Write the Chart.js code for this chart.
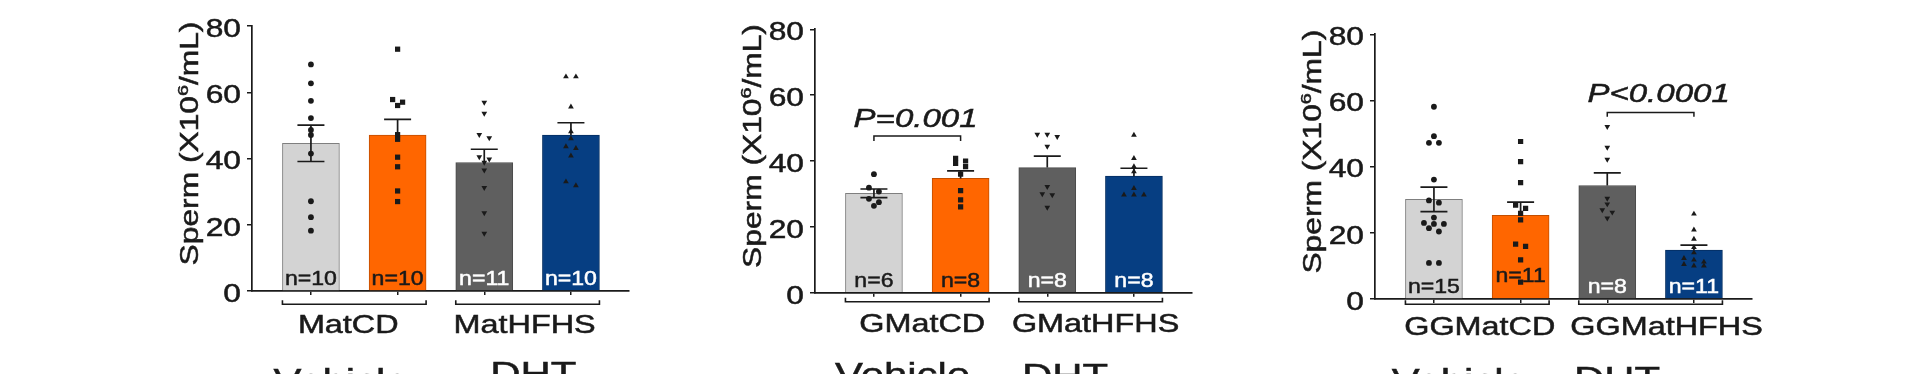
<!DOCTYPE html>
<html>
<head>
<meta charset="utf-8">
<script src="https://cdn.jsdelivr.net/npm/chart.js@4/dist/chart.umd.min.js"></script>
<style>
    html, body { margin: 0; padding: 0; background: #fff; }
    #wrap { position: relative; width: 1920px; height: 374px; overflow: hidden; }
    canvas { position: absolute; top: 0; }
</style>
</head>
<body>
<div id="wrap">
    <canvas id="c1" width="600" height="374" style="left:52px"></canvas>
    <canvas id="c2" width="600" height="374" style="left:615px"></canvas>
    <canvas id="c3" width="600" height="374" style="left:1175px"></canvas>
</div>
<script>
// 数据 (Sperm, x10^6/mL) — 从原图读出
const treatLabels = ['Vehicle', 'DHT'];
const groups1 = ['MatCD', 'MatHFHS'];
const groups2 = ['GMatCD', 'GMatHFHS'];
const groups3 = ['GGMatCD', 'GGMatHFHS'];

// F1: MatCD / MatHFHS
const f1Means = [44.6, 47.1, 38.8, 47.1];
const f1Sem = [5.5, 4.7, 4.0, 3.7];
const f1VehCD = [68.4, 62.7, 57.4, 52.2, 48.6, 47.1, 41.5, 27.1, 22.3, 18.2];
const f1DhtCD = [73.0, 57.8, 57.0, 56.0, 47.2, 45.8, 40.4, 37.5, 30.2, 27.0];
const f1VehHF = [56.9, 53.6, 47.2, 46.2, 40.5, 39.8, 38.8, 36.5, 31.2, 23.6, 17.4];
const f1DhtHF = [64.7, 64.7, 55.6, 48.1, 46.0, 43.6, 43.1, 40.8, 33.0, 31.8];

// F2: GMatCD / GMatHFHS
const f2Means = [30.2, 34.7, 38.0, 35.4];
const f2Sem = [1.3, 2.3, 3.5, 2.4];
const f2VehCD = [36.0, 31.9, 30.7, 28.5, 27.5, 26.4];
const f2DhtCD = [40.8, 40.0, 39.3, 38.3, 36.0, 31.0, 28.2, 26.1];
const f2VehHF = [48.1, 48.1, 47.4, 44.4, 32.2, 30.0, 29.7, 25.9];
const f2DhtHF = [47.9, 40.8, 38.3, 36.8, 31.7, 29.7, 29.7, 29.7];

// F3: GGMatCD / GGMatHFHS
const f3Means = [30.1, 25.3, 34.3, 14.8];
const f3Sem = [3.7, 4.0, 3.8, 1.5];
const f3VehCD = [58.1, 49.2, 47.2, 47.2, 36.1, 29.8, 29.1, 24.6, 23.0, 22.7, 22.7, 21.4, 20.4, 10.9, 10.9];
const f3DhtCD = [47.6, 41.5, 35.2, 28.4, 27.4, 25.9, 23.9, 16.6, 15.9, 11.8, 5.1];
const f3VehHF = [52.1, 45.8, 42.2, 30.4, 28.7, 26.9, 26.2, 24.4];
const f3DhtHF = [25.7, 20.9, 18.1, 15.6, 14.0, 12.3, 11.8, 11.2, 10.5, 10.0, 10.0];

const pLabel2 = 'P=0.001';
const pLabel3 = 'P<0.0001';

// 样式
const FONT = '"Liberation Sans", Arial, Helvetica, sans-serif';
const INK = '#1a1a1a';
const barColors = ['#d3d3d3', '#ff6600', '#5f5f5f', '#063e82'];
const barBorders = ['#7f7f7f', '#c24e00', '#4b4b4b', '#052e60'];
const nColors = [INK, INK, '#ffffff', '#ffffff'];
const markers = [
    { style: 'circle', r: 2.9, rot: 0 },
    { style: 'rect', r: 3.7, rot: 0 },
    { style: 'triangle', r: 3.3, rot: 180 },
    { style: 'triangle', r: 3.3, rot: 0 }
];

// 面板布局
const panels = [
    {
        id: 'c1', top: 26, bottom: 291,
        means: f1Means, sem: f1Sem, pts: [f1VehCD, f1DhtCD, f1VehHF, f1DhtHF],
        groups: groups1, groupY: 304.3, labelY: 333.3, labelDx: [-6, -3],
        nLift: [6, 6, 6, 6], sig: null,
        treatX: [21.6, 238.3], treatY: [391.5, 385]
    },
    {
        id: 'c2', top: 29.3, bottom: 292.7,
        means: f2Means, sem: f2Sem, pts: [f2VehCD, f2DhtCD, f2VehHF, f2DhtHF],
        groups: groups2, groupY: 301.7, labelY: 331.7, labelDx: [5, 5],
        nLift: [6, 6, 6, 6],
        sig: { a: 0, b: 1, level: 47.6, drop: 5, gap: 9, dx: -1.7, text: pLabel2 },
        treatX: [20, 207], treatY: [385.5, 386.5]
    },
    {
        id: 'c3', top: 34.3, bottom: 299,
        means: f3Means, sem: f3Sem, pts: [f3VehCD, f3DhtCD, f3VehHF, f3DhtHF],
        groups: groups3, groupY: 304.3, labelY: 335, labelDx: [2.5, 16],
        nLift: [6, 17, 6, 6],
        sig: { a: 2, b: 3, level: 56.4, drop: 4.4, gap: 10.6, dx: 8, text: pLabel3 },
        treatX: [16.7, 199], treatY: [391.5, 390]
    }
];

// 散点横向错开：数值相近的点并排摆放
function spread(values, step, thr) {
    const idx = values.map((v, i) => i).sort((a, b) => values[b] - values[a]);
    const off = new Array(values.length).fill(0);
    let cluster = [];
    const flush = () => {
        cluster.forEach((k, j) => { off[k] = (j - (cluster.length - 1) / 2) * step; });
        cluster = [];
    };
    idx.forEach(k => {
        if (cluster.length && values[cluster[0]] - values[k] > thr) flush();
        cluster.push(k);
    });
    flush();
    return off;
}

// 横向拉宽的文字 (原图字体偏宽)
function wideText(ctx, str, x, y, size, opts) {
    opts = opts || {};
    const sx = opts.sx || 1.27;
    ctx.save();
    ctx.font = (opts.italic ? 'italic ' : '') + size + 'px ' + FONT;
    ctx.fillStyle = opts.color || INK;
    ctx.strokeStyle = opts.color || INK;
    ctx.lineWidth = 0.5;
    ctx.textBaseline = 'alphabetic';
    ctx.textAlign = 'left';
    const w = ctx.measureText(str).width * sx;
    let x0 = x;
    if (opts.align === 'center') x0 = x - w / 2;
    else if (opts.align === 'right') x0 = x - w;
    ctx.translate(x0, y);
    ctx.scale(sx, 1);
    ctx.fillText(str, 0, 0);
    ctx.strokeText(str, 0, 0);
    ctx.restore();
}

function drawYTitle(ctx, bx, cy) {
    const size = 25, sup = 15.5, sx = 1.27;
    const a = 'Sperm (X10', b = '/mL)';
    ctx.save();
    ctx.fillStyle = INK;
    ctx.strokeStyle = INK;
    ctx.lineWidth = 0.5;
    ctx.textBaseline = 'alphabetic';
    ctx.translate(bx, cy);
    ctx.rotate(-Math.PI / 2);
    ctx.scale(sx, 1);
    ctx.font = size + 'px ' + FONT;
    const wa = ctx.measureText(a).width, wb = ctx.measureText(b).width;
    ctx.font = sup + 'px ' + FONT;
    const ws = ctx.measureText('6').width;
    let x = -(wa + ws + wb) / 2;
    const put = (s, f, dy) => {
        ctx.font = f + 'px ' + FONT;
        ctx.fillText(s, x, dy);
        ctx.strokeText(s, x, dy);
    };
    put(a, size, 0);
    x += wa;
    put('6', sup, -9.5);
    x += ws;
    put(b, size, 0);
    ctx.restore();
}

const panelPlugin = {
    id: 'panel',
    afterDatasetsDraw(chart, args, p) {
        const ctx = chart.ctx, xs = chart.scales.x, ys = chart.scales.y;
        ctx.save();
        ctx.strokeStyle = INK;
        ctx.lineWidth = 1.7;
        p.means.forEach((m, i) => {
            const cx = xs.getPixelForValue(i);
            const below = i === 0;
            const yt = ys.getPixelForValue(m + p.sem[i]);
            const yb = ys.getPixelForValue(below ? m - p.sem[i] : m);
            ctx.beginPath();
            ctx.moveTo(cx, yb);
            ctx.lineTo(cx, yt);
            ctx.moveTo(cx - 13.5, yt);
            ctx.lineTo(cx + 13.5, yt);
            if (below) {
                ctx.moveTo(cx - 13.5, yb);
                ctx.lineTo(cx + 13.5, yb);
            }
            ctx.stroke();
        });
        ctx.restore();
    },
    afterDraw(chart, args, p) {
        const ctx = chart.ctx, xs = chart.scales.x, ys = chart.scales.y;
        const area = chart.chartArea;
        const bars = chart.getDatasetMeta(0).data;

        // y 轴刻度
        ys.ticks.forEach(t => {
            wideText(ctx, String(t.value), area.left - 11, ys.getPixelForValue(t.value) + 10.8, 25, { align: 'right' });
        });
        drawYTitle(ctx, area.left - 54.5, (area.top + area.bottom) / 2 - 15);

        // n=
        p.pts.forEach((vals, i) => {
            wideText(ctx, 'n=' + vals.length, bars[i].x, area.bottom - p.nLift[i], 21,
                { align: 'center', sx: 1.1, color: nColors[i] });
        });

        // 分组括号和标签
        ctx.save();
        ctx.strokeStyle = INK;
        ctx.lineWidth = 1.6;
        p.groups.forEach((g, k) => {
            const b0 = bars[2 * k], b1 = bars[2 * k + 1];
            const x0 = b0.x - b0.width / 2, x1 = b1.x + b1.width / 2;
            ctx.beginPath();
            ctx.moveTo(x0, p.groupY - 4);
            ctx.lineTo(x0, p.groupY);
            ctx.lineTo(x1, p.groupY);
            ctx.lineTo(x1, p.groupY - 4);
            ctx.stroke();
            wideText(ctx, g, (b0.x + b1.x) / 2 + p.labelDx[k], p.labelY, 25.5, { align: 'center' });
        });
        ctx.restore();

        // 显著性
        if (p.sig) {
            const s = p.sig;
            const xa = xs.getPixelForValue(s.a), xb = xs.getPixelForValue(s.b);
            const y = ys.getPixelForValue(s.level);
            ctx.save();
            ctx.strokeStyle = INK;
            ctx.lineWidth = 1.5;
            ctx.beginPath();
            ctx.moveTo(xa, y + s.drop);
            ctx.lineTo(xa, y);
            ctx.lineTo(xb, y);
            ctx.lineTo(xb, y + s.drop);
            ctx.stroke();
            ctx.restore();
            wideText(ctx, s.text, (xa + xb) / 2 + s.dx, y - s.gap, 26, { align: 'center', italic: true });
        }

        // 底部处理标签 (被裁切)
        treatLabels.forEach((t, k) => {
            wideText(ctx, t, area.left + p.treatX[k], p.treatY[k], 33);
        });
    }
};

panels.forEach(p => {
    const datasets = [{
        type: 'bar',
        data: p.means.map((m, i) => ({ x: i, y: m })),
        backgroundColor: barColors,
        borderColor: barBorders,
        borderWidth: 1,
        barThickness: 57,
        order: 2
    }];
    p.pts.forEach((vals, i) => {
        const off = spread(vals, 0.115, 1.2);
        datasets.push({
            type: 'scatter',
            data: vals.map((v, k) => ({ x: i + off[k], y: v })),
            pointStyle: markers[i].style,
            pointRadius: markers[i].r,
            pointRotation: markers[i].rot,
            backgroundColor: INK,
            borderColor: INK,
            borderWidth: 0,
            order: 1
        });
    });

    new Chart(document.getElementById(p.id), {
        type: 'bar',
        data: { datasets: datasets },
        options: {
            responsive: false,
            animation: false,
            events: [],
            layout: { padding: { top: p.top, right: 23, left: 0, bottom: 0 } },
            plugins: {
                legend: { display: false },
                tooltip: { enabled: false },
                panel: p
            },
            scales: {
                x: {
                    type: 'linear',
                    min: -0.68,
                    max: 3.67,
                    offset: false,
                    afterBuildTicks: s => { s.ticks = [0, 1, 2, 3].map(v => ({ value: v })); },
                    afterFit: s => { s.height = 374 - p.bottom; },
                    ticks: { display: false },
                    grid: { display: true, drawOnChartArea: false, drawTicks: true, tickLength: 4, color: INK, lineWidth: 1.5, offset: false },
                    border: { display: true, color: INK, width: 1.7 }
                },
                y: {
                    min: 0,
                    max: 80,
                    ticks: { display: false, stepSize: 20 },
                    afterFit: s => { s.width = 200; },
                    grid: { drawOnChartArea: false, drawTicks: true, tickLength: 5, color: INK, lineWidth: 1.5 },
                    border: { display: true, color: INK, width: 1.7 }
                }
            }
        },
        plugins: [panelPlugin]
    });
});
</script>
</body>
</html>
